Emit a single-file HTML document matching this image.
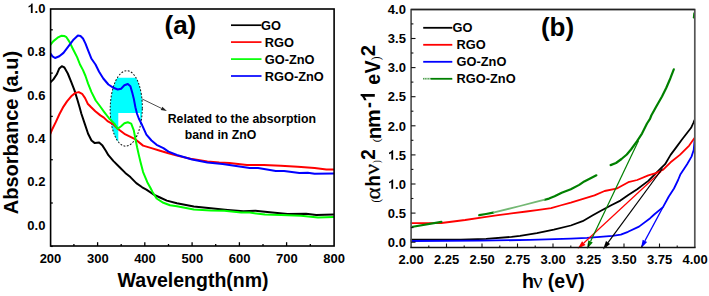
<!DOCTYPE html>
<html><head><meta charset="utf-8"><style>
html,body{margin:0;padding:0;background:#fff;}
body{width:709px;height:296px;overflow:hidden;font-family:"Liberation Sans",sans-serif;}
svg{display:block;}
</style></head><body>
<svg width="709" height="296" viewBox="0 0 709 296">
<rect width="709" height="296" fill="#fff"/>
<defs><clipPath id="elc"><ellipse cx="126.25" cy="108.45" rx="16.05" ry="37.75" transform="rotate(1.0 126.25 108.45)"/></clipPath></defs>
<g clip-path="url(#elc)"><path d="M100 77.8 H150 V150 H140.1 V113.0 H118.3 V150 H100 Z" fill="#00ffff"/></g>
<ellipse cx="126.25" cy="108.45" rx="16.05" ry="37.75" transform="rotate(1.0 126.25 108.45)" fill="none" stroke="#111" stroke-width="1.0" stroke-dasharray="1.8,1.6"/>
<line x1="161.5" y1="108.4" x2="142.2" y2="99.0" stroke="#222" stroke-width="0.8"/><polygon points="166.9,111.0 162.3,106.8 160.7,110.0" fill="#222"/>
<defs><clipPath id="cpa"><rect x="50.2" y="9" width="283.8" height="237"/></clipPath></defs><g clip-path="url(#cpa)">
<polyline points="50.0,82.8 53.4,79.4 56.8,74.3 59.3,68.4 61.8,66.2 64.4,67.5 67.8,73.5 71.2,81.9 74.5,90.4 77.1,98.8 79.6,107.3 81.3,113.5 84.7,123.6 88.1,133.8 91.5,140.5 94.8,143.1 99.1,142.6 102.5,145.6 105.8,150.7 108.4,155.2 113.5,161.1 119.4,167.0 125.3,172.9 130.4,177.1 136.3,183.1 142.2,187.3 146.4,189.6 153.2,194.3 160.0,197.5 166.8,200.6 176.9,203.3 193.8,206.5 210.8,208.2 227.7,209.9 243.5,211.2 255.4,210.7 264.9,211.7 272.3,212.4 287.5,214.1 306.1,213.8 316.3,215.0 333.6,214.6" fill="none" stroke="#000000" stroke-width="2" stroke-linejoin="round" stroke-linecap="round"/>
<polyline points="50.0,134.6 52.5,128.7 55.9,121.9 59.5,114.0 63.5,106.6 67.0,101.4 71.2,96.3 75.4,92.9 78.8,92.1 82.1,93.8 85.1,98.1 87.7,103.7 91.2,107.3 95.3,111.3 100.4,115.4 103.9,117.6 107.5,121.1 113.5,124.5 117.7,128.7 124.4,133.8 134.6,138.8 143.1,145.6 151.5,148.1 160.0,150.7 168.5,153.3 176.9,155.6 190.5,158.7 207.4,161.6 219.2,162.6 229.4,162.9 246.9,164.9 263.8,164.9 280.8,165.7 297.7,166.7 314.6,167.9 326.4,169.6 333.6,169.6" fill="none" stroke="#ff0000" stroke-width="2" stroke-linejoin="round" stroke-linecap="round"/>
<polyline points="50.0,45.3 53.4,41.1 57.6,37.7 61.2,35.8 64.2,36.0 66.1,36.8 69.5,41.9 72.8,48.7 77.1,57.1 80.0,64.5 83.0,70.1 85.5,76.0 88.1,83.6 91.5,92.1 95.7,100.5 99.5,105.5 104.1,111.8 109.2,118.5 114.3,123.6 117.7,128.7 121.1,126.2 124.4,123.3 127.8,122.3 131.2,123.6 133.8,130.4 135.4,138.8 137.1,147.3 138.8,154.9 140.5,161.9 143.1,172.1 147.3,182.2 150.5,188.0 152.4,191.8 156.6,198.5 163.4,202.8 170.0,205.3 176.9,206.2 193.8,209.5 210.8,210.4 224.3,210.7 241.2,212.6 249.7,212.6 264.9,214.6 280.8,215.1 301.1,215.8 318.0,217.5 333.6,217.1" fill="none" stroke="#00ff00" stroke-width="2" stroke-linejoin="round" stroke-linecap="round"/>
<polyline points="50.0,52.9 52.5,56.3 55.1,58.0 59.3,56.3 63.5,52.9 68.6,46.2 73.7,39.4 77.9,35.5 80.5,36.0 83.0,38.5 85.5,43.6 88.1,50.4 91.5,58.8 95.5,64.5 99.1,71.8 103.3,78.5 108.4,84.5 113.5,87.8 117.7,89.5 121.1,88.7 124.4,85.3 127.8,84.0 130.4,86.2 132.1,92.1 133.8,98.8 135.4,107.3 137.1,114.0 138.8,118.5 142.2,125.3 146.4,134.6 151.5,140.5 156.6,144.8 163.4,148.1 168.5,151.6 176.9,155.0 192.1,159.5 207.4,162.4 222.6,164.1 236.1,166.0 249.7,168.0 258.1,168.0 270.0,170.0 275.7,171.0 284.1,171.0 299.4,173.0 307.8,172.7 314.6,173.8 333.6,173.5" fill="none" stroke="#0000ff" stroke-width="2" stroke-linejoin="round" stroke-linecap="round"/>
</g>
<rect x="50.6" y="9.0" width="283.5" height="237.0" fill="none" stroke="#000" stroke-width="1.6"/>
<line x1="50.6" y1="203.0" x2="52.8" y2="203.0" stroke="#000" stroke-width="1.3"/>
<line x1="50.6" y1="159.7" x2="52.8" y2="159.7" stroke="#000" stroke-width="1.3"/>
<line x1="50.6" y1="116.4" x2="52.8" y2="116.4" stroke="#000" stroke-width="1.3"/>
<line x1="50.6" y1="73.1" x2="52.8" y2="73.1" stroke="#000" stroke-width="1.3"/>
<line x1="50.6" y1="29.8" x2="52.8" y2="29.8" stroke="#000" stroke-width="1.3"/>
<line x1="50.6" y1="246.4" x2="52.8" y2="246.4" stroke="#000" stroke-width="1.3"/>
<line x1="73.9" y1="246.0" x2="73.9" y2="244.0" stroke="#000" stroke-width="1.3"/>
<line x1="97.6" y1="246.0" x2="97.6" y2="242.2" stroke="#000" stroke-width="1.3"/>
<line x1="121.2" y1="246.0" x2="121.2" y2="244.0" stroke="#000" stroke-width="1.3"/>
<line x1="144.8" y1="246.0" x2="144.8" y2="242.2" stroke="#000" stroke-width="1.3"/>
<line x1="168.5" y1="246.0" x2="168.5" y2="244.0" stroke="#000" stroke-width="1.3"/>
<line x1="192.1" y1="246.0" x2="192.1" y2="242.2" stroke="#000" stroke-width="1.3"/>
<line x1="215.7" y1="246.0" x2="215.7" y2="244.0" stroke="#000" stroke-width="1.3"/>
<line x1="239.4" y1="246.0" x2="239.4" y2="242.2" stroke="#000" stroke-width="1.3"/>
<line x1="263.0" y1="246.0" x2="263.0" y2="244.0" stroke="#000" stroke-width="1.3"/>
<line x1="286.6" y1="246.0" x2="286.6" y2="242.2" stroke="#000" stroke-width="1.3"/>
<line x1="310.3" y1="246.0" x2="310.3" y2="244.0" stroke="#000" stroke-width="1.3"/>
<text x="27.33" y="229.50" font-size="13" font-family="Liberation Sans, sans-serif" font-weight="bold">0.0</text>
<text x="27.33" y="186.18" font-size="13" font-family="Liberation Sans, sans-serif" font-weight="bold">0.2</text>
<text x="27.33" y="142.86" font-size="13" font-family="Liberation Sans, sans-serif" font-weight="bold">0.4</text>
<text x="27.33" y="99.54" font-size="13" font-family="Liberation Sans, sans-serif" font-weight="bold">0.6</text>
<text x="27.33" y="56.22" font-size="13" font-family="Liberation Sans, sans-serif" font-weight="bold">0.8</text>
<path transform="translate(27.33,12.90) scale(0.00635,-0.00635)" d="M556 0H837V1466H655Q618 1350 514 1262Q410 1174 193 1103V846Q402 915 556 1059Z" fill="#000"/><text x="34.56" y="12.90" font-size="13" font-family="Liberation Sans, sans-serif" font-weight="bold">.0</text>
<text x="50.5" y="262.5" text-anchor="middle" font-size="13" font-family="Liberation Sans, sans-serif" font-weight="bold">200</text>
<text x="97.8" y="262.5" text-anchor="middle" font-size="13" font-family="Liberation Sans, sans-serif" font-weight="bold">300</text>
<text x="145.0" y="262.5" text-anchor="middle" font-size="13" font-family="Liberation Sans, sans-serif" font-weight="bold">400</text>
<text x="192.3" y="262.5" text-anchor="middle" font-size="13" font-family="Liberation Sans, sans-serif" font-weight="bold">500</text>
<text x="239.6" y="262.5" text-anchor="middle" font-size="13" font-family="Liberation Sans, sans-serif" font-weight="bold">600</text>
<text x="286.8" y="262.5" text-anchor="middle" font-size="13" font-family="Liberation Sans, sans-serif" font-weight="bold">700</text>
<text x="334.1" y="262.5" text-anchor="middle" font-size="13" font-family="Liberation Sans, sans-serif" font-weight="bold">800</text>
<text x="193.1" y="286.7" text-anchor="middle" font-size="19.5" font-family="Liberation Sans, sans-serif" font-weight="bold">Wavelength(nm)</text>
<text transform="translate(18.3,214.2) rotate(-90)" x="0" y="0" font-size="20" font-family="Liberation Sans, sans-serif" font-weight="bold">Absorbance (a.u)</text>
<text x="180.4" y="34.3" text-anchor="middle" font-size="26" font-family="Liberation Sans, sans-serif" font-weight="bold">(a)</text>
<line x1="231" y1="25.2" x2="261.5" y2="25.2" stroke="#000" stroke-width="1.7"/>
<text x="261.0" y="29.7" font-size="12.8" font-family="Liberation Sans, sans-serif" font-weight="bold">GO</text>
<line x1="231" y1="42.1" x2="261.5" y2="42.1" stroke="#ff0000" stroke-width="1.7"/>
<text x="264.8" y="46.6" font-size="12.8" font-family="Liberation Sans, sans-serif" font-weight="bold">RGO</text>
<line x1="231" y1="59.1" x2="261.5" y2="59.1" stroke="#00ff00" stroke-width="1.7"/>
<text x="264.8" y="63.6" font-size="12.8" font-family="Liberation Sans, sans-serif" font-weight="bold">GO-ZnO</text>
<line x1="231" y1="76.0" x2="261.5" y2="76.0" stroke="#0000ff" stroke-width="1.7"/>
<text x="264.8" y="80.5" font-size="12.8" font-family="Liberation Sans, sans-serif" font-weight="bold">RGO-ZnO</text>
<text x="167.7" y="122.7" font-size="12.25" font-family="Liberation Sans, sans-serif" font-weight="bold" textLength="148.3" lengthAdjust="spacingAndGlyphs">Related to the absorption</text>
<text x="184.7" y="139.0" font-size="12.25" font-family="Liberation Sans, sans-serif" font-weight="bold" textLength="71.6" lengthAdjust="spacingAndGlyphs">band in ZnO</text>
<defs><clipPath id="cpb"><rect x="410.5" y="9" width="284.5" height="239"/></clipPath></defs><g clip-path="url(#cpb)">
<polyline points="411.0,239.6 460.8,239.7 486.1,238.9 511.5,236.9 520.0,235.8 536.9,233.1 553.8,229.7 570.8,225.5 582.6,221.2 592.8,215.3 600.0,211.2 611.2,205.2 620.4,200.6 628.3,195.0 637.2,189.3 648.3,180.9 659.5,169.7 665.1,164.2 670.6,154.9 676.2,147.4 681.8,139.8 691.1,127.8 693.3,123.0 694.5,120.2" fill="none" stroke="#000000" stroke-width="1.8" stroke-linejoin="round" stroke-linecap="round"/>
<polyline points="411.0,223.1 441.4,223.0 465.1,220.0 486.1,216.8 498.2,215.2 511.5,213.4 526.4,211.5 536.9,210.1 551.1,208.2 560.3,205.5 570.8,202.6 594.5,195.4 604.6,191.0 616.4,188.7 628.3,182.2 637.2,180.0 648.3,175.3 655.8,173.1 663.2,169.7 670.6,162.3 679.9,154.9 689.2,145.6 694.5,138.0" fill="none" stroke="#ff0000" stroke-width="1.8" stroke-linejoin="round" stroke-linecap="round"/>
<polyline points="411.0,241.0 480.0,240.7 530.0,239.9 570.8,238.7 587.0,237.9 600.0,236.8 612.4,235.9 620.8,234.7 628.0,231.8 639.0,226.6 650.2,218.2 654.2,214.5 663.0,207.1 668.8,196.5 674.0,188.5 678.1,180.0 680.5,174.2 687.1,164.3 691.5,156.6 693.7,150.0 694.5,141.0" fill="none" stroke="#0000ff" stroke-width="1.8" stroke-linejoin="round" stroke-linecap="round"/>
<polyline points="411.4,227.0 441.4,221.9" fill="none" stroke="#008000" stroke-width="2.2" stroke-linejoin="round" stroke-linecap="round"/>
<polyline points="479.2,215.2 486.0,214.0 493.2,212.6" fill="none" stroke="#008000" stroke-width="2.2" stroke-linejoin="round" stroke-linecap="round"/>
<polyline points="544.8,199.8 549.0,198.6 554.6,196.3 561.7,192.8 570.8,189.3 579.2,184.9 584.3,181.4 596.4,175.3" fill="none" stroke="#008000" stroke-width="2.2" stroke-linejoin="round" stroke-linecap="round"/>
<polyline points="610.6,165.1 616.0,163.0 621.5,159.0 626.8,154.5 631.0,149.5 636.9,141.3 642.0,133.6 647.0,123.5 650.0,118.8 651.3,115.5 656.0,107.0 662.0,96.5 666.2,88.0 670.4,78.2 673.8,69.3" fill="none" stroke="#008000" stroke-width="2.2" stroke-linejoin="round" stroke-linecap="round"/>
<polyline points="493.2,212.6 520.0,206.0 535.0,202.2 544.8,199.6" fill="none" stroke="#74b874" stroke-width="1.8" stroke-linejoin="round"/>
<path d="M693.4 12.6 L694.2 12.6 L694.2 19.3 L692.8 17.5 Z" fill="#008000"/>
</g>
<line x1="583.8" y1="243.0" x2="661.0" y2="171.5" stroke="#ff0000" stroke-width="1.2"/><polygon points="577.6,248.8 585.5,244.9 582.1,241.2" fill="#ff0000"/>
<line x1="590.6" y1="241.3" x2="638.6" y2="140.4" stroke="#008000" stroke-width="1.2"/><polygon points="586.9,249.0 592.8,242.4 588.3,240.3" fill="#008000"/>
<line x1="608.0" y1="242.6" x2="662.5" y2="168.5" stroke="#000000" stroke-width="1.2"/><polygon points="603.0,249.4 610.1,244.0 606.0,241.1" fill="#000000"/>
<line x1="644.9" y1="240.9" x2="663.0" y2="207.1" stroke="#0000ff" stroke-width="1.2"/><polygon points="640.9,248.4 647.1,242.1 642.7,239.7" fill="#0000ff"/>
<path d="M411.1 247.5 V9.5 H694.8 V247.5" fill="none" stroke="#555" stroke-width="1.7"/>
<line x1="410.3" y1="247.5" x2="695.6" y2="247.5" stroke="#111" stroke-width="1.3"/>
<line x1="411.1" y1="9.5" x2="694.8" y2="9.5" stroke="#222" stroke-width="1.3"/>
<line x1="411.1" y1="242.2" x2="415.5" y2="242.2" stroke="#111" stroke-width="1.1"/>
<line x1="411.1" y1="227.6" x2="413.4" y2="227.6" stroke="#111" stroke-width="1.1"/>
<line x1="411.1" y1="213.1" x2="415.5" y2="213.1" stroke="#111" stroke-width="1.1"/>
<line x1="411.1" y1="198.5" x2="413.4" y2="198.5" stroke="#111" stroke-width="1.1"/>
<line x1="411.1" y1="184.0" x2="415.5" y2="184.0" stroke="#111" stroke-width="1.1"/>
<line x1="411.1" y1="169.4" x2="413.4" y2="169.4" stroke="#111" stroke-width="1.1"/>
<line x1="411.1" y1="154.9" x2="415.5" y2="154.9" stroke="#111" stroke-width="1.1"/>
<line x1="411.1" y1="140.3" x2="413.4" y2="140.3" stroke="#111" stroke-width="1.1"/>
<line x1="411.1" y1="125.8" x2="415.5" y2="125.8" stroke="#111" stroke-width="1.1"/>
<line x1="411.1" y1="111.2" x2="413.4" y2="111.2" stroke="#111" stroke-width="1.1"/>
<line x1="411.1" y1="96.7" x2="415.5" y2="96.7" stroke="#111" stroke-width="1.1"/>
<line x1="411.1" y1="82.1" x2="413.4" y2="82.1" stroke="#111" stroke-width="1.1"/>
<line x1="411.1" y1="67.6" x2="415.5" y2="67.6" stroke="#111" stroke-width="1.1"/>
<line x1="411.1" y1="53.0" x2="413.4" y2="53.0" stroke="#111" stroke-width="1.1"/>
<line x1="411.1" y1="38.5" x2="415.5" y2="38.5" stroke="#111" stroke-width="1.1"/>
<line x1="411.1" y1="23.9" x2="413.4" y2="23.9" stroke="#111" stroke-width="1.1"/>
<line x1="428.8" y1="247.5" x2="428.8" y2="245.5" stroke="#111" stroke-width="1.1"/>
<line x1="446.5" y1="247.5" x2="446.5" y2="243.5" stroke="#111" stroke-width="1.1"/>
<line x1="464.2" y1="247.5" x2="464.2" y2="245.5" stroke="#111" stroke-width="1.1"/>
<line x1="482.0" y1="247.5" x2="482.0" y2="243.5" stroke="#111" stroke-width="1.1"/>
<line x1="499.8" y1="247.5" x2="499.8" y2="245.5" stroke="#111" stroke-width="1.1"/>
<line x1="517.5" y1="247.5" x2="517.5" y2="243.5" stroke="#111" stroke-width="1.1"/>
<line x1="535.2" y1="247.5" x2="535.2" y2="245.5" stroke="#111" stroke-width="1.1"/>
<line x1="553.0" y1="247.5" x2="553.0" y2="243.5" stroke="#111" stroke-width="1.1"/>
<line x1="570.8" y1="247.5" x2="570.8" y2="245.5" stroke="#111" stroke-width="1.1"/>
<line x1="588.5" y1="247.5" x2="588.5" y2="243.5" stroke="#111" stroke-width="1.1"/>
<line x1="606.2" y1="247.5" x2="606.2" y2="245.5" stroke="#111" stroke-width="1.1"/>
<line x1="624.0" y1="247.5" x2="624.0" y2="243.5" stroke="#111" stroke-width="1.1"/>
<line x1="641.8" y1="247.5" x2="641.8" y2="245.5" stroke="#111" stroke-width="1.1"/>
<line x1="659.5" y1="247.5" x2="659.5" y2="243.5" stroke="#111" stroke-width="1.1"/>
<line x1="677.2" y1="247.5" x2="677.2" y2="245.5" stroke="#111" stroke-width="1.1"/>
<text x="387.83" y="246.90" font-size="13" font-family="Liberation Sans, sans-serif" font-weight="bold">0.0</text>
<text x="387.83" y="217.80" font-size="13" font-family="Liberation Sans, sans-serif" font-weight="bold">0.5</text>
<path transform="translate(387.83,188.70) scale(0.00635,-0.00635)" d="M556 0H837V1466H655Q618 1350 514 1262Q410 1174 193 1103V846Q402 915 556 1059Z" fill="#000"/><text x="395.06" y="188.70" font-size="13" font-family="Liberation Sans, sans-serif" font-weight="bold">.0</text>
<path transform="translate(387.83,159.60) scale(0.00635,-0.00635)" d="M556 0H837V1466H655Q618 1350 514 1262Q410 1174 193 1103V846Q402 915 556 1059Z" fill="#000"/><text x="395.06" y="159.60" font-size="13" font-family="Liberation Sans, sans-serif" font-weight="bold">.5</text>
<text x="387.83" y="130.50" font-size="13" font-family="Liberation Sans, sans-serif" font-weight="bold">2.0</text>
<text x="387.83" y="101.40" font-size="13" font-family="Liberation Sans, sans-serif" font-weight="bold">2.5</text>
<text x="387.83" y="72.30" font-size="13" font-family="Liberation Sans, sans-serif" font-weight="bold">3.0</text>
<text x="387.83" y="43.20" font-size="13" font-family="Liberation Sans, sans-serif" font-weight="bold">3.5</text>
<text x="387.83" y="14.10" font-size="13" font-family="Liberation Sans, sans-serif" font-weight="bold">4.0</text>
<text x="411.2" y="263.6" text-anchor="middle" font-size="13" font-family="Liberation Sans, sans-serif" font-weight="bold">2.00</text>
<text x="446.7" y="263.6" text-anchor="middle" font-size="13" font-family="Liberation Sans, sans-serif" font-weight="bold">2.25</text>
<text x="482.2" y="263.6" text-anchor="middle" font-size="13" font-family="Liberation Sans, sans-serif" font-weight="bold">2.50</text>
<text x="517.7" y="263.6" text-anchor="middle" font-size="13" font-family="Liberation Sans, sans-serif" font-weight="bold">2.75</text>
<text x="553.2" y="263.6" text-anchor="middle" font-size="13" font-family="Liberation Sans, sans-serif" font-weight="bold">3.00</text>
<text x="588.7" y="263.6" text-anchor="middle" font-size="13" font-family="Liberation Sans, sans-serif" font-weight="bold">3.25</text>
<text x="624.2" y="263.6" text-anchor="middle" font-size="13" font-family="Liberation Sans, sans-serif" font-weight="bold">3.50</text>
<text x="659.7" y="263.6" text-anchor="middle" font-size="13" font-family="Liberation Sans, sans-serif" font-weight="bold">3.75</text>
<text x="695.2" y="263.6" text-anchor="middle" font-size="13" font-family="Liberation Sans, sans-serif" font-weight="bold">4.00</text>
<text x="522.0" y="288.0" font-size="19.5" font-family="Liberation Sans, sans-serif" font-weight="bold">h</text>
<text x="532.7" y="288.0" font-size="22" font-family="Liberation Serif, serif">&#957;</text>
<text x="547.8" y="288.0" font-size="19.5" font-family="Liberation Sans, sans-serif" font-weight="bold">(eV)</text>
<line x1="423.2" y1="27.8" x2="452.3" y2="27.8" stroke="#000" stroke-width="1.8"/>
<text x="452.6" y="32.3" font-size="12.8" font-family="Liberation Sans, sans-serif" font-weight="bold">GO</text>
<line x1="423.2" y1="44.8" x2="452.3" y2="44.8" stroke="#ff0000" stroke-width="1.8"/>
<text x="456.6" y="49.3" font-size="12.8" font-family="Liberation Sans, sans-serif" font-weight="bold">RGO</text>
<line x1="423.2" y1="61.8" x2="452.3" y2="61.8" stroke="#0000ff" stroke-width="1.8"/>
<text x="456.6" y="66.3" font-size="12.8" font-family="Liberation Sans, sans-serif" font-weight="bold">GO-ZnO</text>
<line x1="423.2" y1="78.8" x2="452.3" y2="78.8" stroke="#008000" stroke-width="1.8"/>
<text x="456.6" y="83.3" font-size="12.8" font-family="Liberation Sans, sans-serif" font-weight="bold">RGO-ZnO</text>
<line x1="423.0" y1="78.8" x2="431" y2="78.8" stroke="#fff" stroke-width="2.2"/>
<line x1="423.0" y1="78.8" x2="431" y2="78.8" stroke="#4f9f4f" stroke-width="1.6" stroke-dasharray="1.2,0.5"/>
<text x="557.5" y="36.4" text-anchor="middle" font-size="26" font-family="Liberation Sans, sans-serif" font-weight="bold">(b)</text>
<g transform="translate(380,0) rotate(-90)"><text transform="translate(-202.58,-0.30) scale(0.844,1)" x="0" y="0" font-size="12.44" font-family="Liberation Serif, serif">(</text><text transform="translate(-199.43,0.10) scale(1.091,1)" x="0" y="0" font-size="21.25" font-family="Liberation Serif, serif" stroke="#000" stroke-width="0.25">α</text><text transform="translate(-186.45,-0.10) scale(0.917,1)" x="0" y="0" font-size="20.14" font-family="Liberation Sans, sans-serif" font-weight="bold">h</text><text transform="translate(-174.66,-0.60) scale(1.159,1)" x="0" y="0" font-size="20.64" font-family="Liberation Serif, serif" stroke="#000" stroke-width="0.25">ν</text><text transform="translate(-163.08,-0.30) scale(0.840,1)" x="0" y="0" font-size="9.67" font-family="Liberation Serif, serif">)</text><text transform="translate(-159.78,-4.70) scale(0.911,1)" x="0" y="0" font-size="20.86" font-family="Liberation Sans, sans-serif" font-weight="bold">2</text><text transform="translate(-142.34,0.00) scale(1.071,1)" x="0" y="0" font-size="11.00" font-family="Liberation Serif, serif">(</text><text transform="translate(-139.35,0.80) scale(0.971,1)" x="0" y="0" font-size="21.11" font-family="Liberation Sans, sans-serif" font-weight="bold">n</text><text transform="translate(-127.96,-0.20) scale(1.074,1)" x="0" y="0" font-size="19.63" font-family="Liberation Sans, sans-serif" font-weight="bold">m</text><text transform="translate(-107.98,-5.10) scale(0.852,1)" x="0" y="0" font-size="21.00" font-family="Liberation Sans, sans-serif" font-weight="bold">-</text><path transform="translate(-102.03,-5.20) scale(0.00947,-0.00969)" d="M556 0H837V1466H655Q618 1350 514 1262Q410 1174 193 1103V846Q402 915 556 1059Z" fill="#000"/><text transform="translate(-84.67,0.10) scale(0.989,1)" x="0" y="0" font-size="19.82" font-family="Liberation Sans, sans-serif" font-weight="bold">e</text><text transform="translate(-73.40,0.40) scale(0.882,1)" x="0" y="0" font-size="22.17" font-family="Liberation Sans, sans-serif" font-weight="bold">V</text><text transform="translate(-60.33,-0.50) scale(1.000,1)" x="0" y="0" font-size="11.67" font-family="Liberation Serif, serif">)</text><text transform="translate(-56.31,-4.70) scale(0.980,1)" x="0" y="0" font-size="20.57" font-family="Liberation Sans, sans-serif" font-weight="bold">2</text></g>
</svg>
</body></html>
